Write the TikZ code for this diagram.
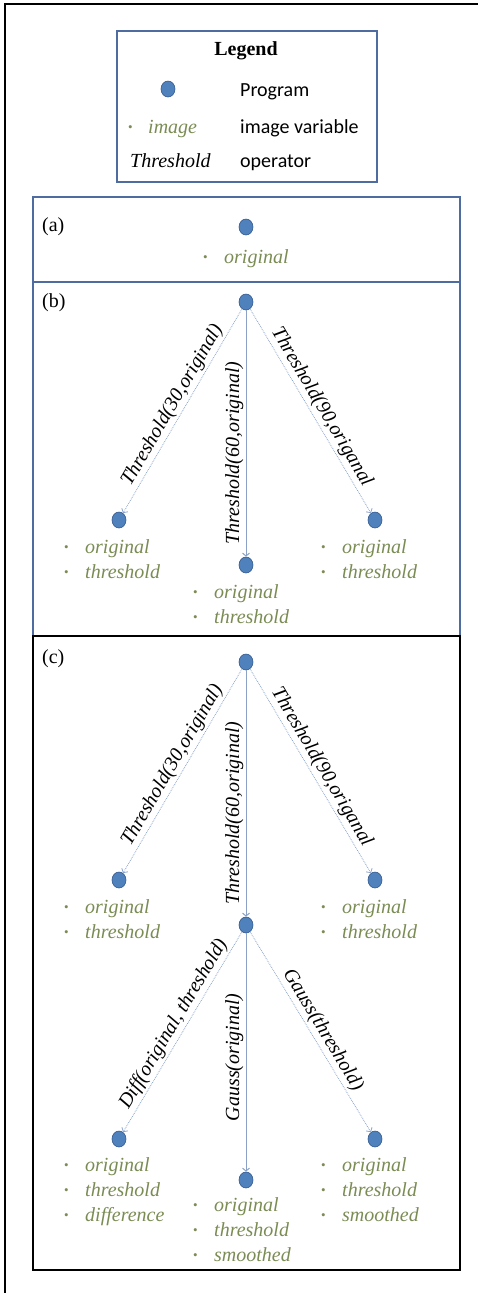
\documentclass[tikz,border=0pt]{standalone}
\usepackage{fontspec}
\setmainfont{Liberation Serif}
\setsansfont{Carlito}
\usetikzlibrary{arrows.meta,shapes.geometric}
\definecolor{progblue}{RGB}{79,129,189}
\definecolor{progedge}{RGB}{52,88,140}
\definecolor{frameblue}{RGB}{79,108,160}
\definecolor{varcol}{RGB}{122,140,84}
\definecolor{linkcol}{RGB}{140,165,205}
\newcommand{\vitem}[1]{\makebox[21pt][l]{\fontsize{13}{13}\selectfont\raisebox{2pt}{\textbullet}}\textit{#1}}

\begin{document}
\begin{tikzpicture}
      [%%%%%%%%%%%%%%%%%%%%%%%%%%%%%%
      x=1pt,y=-1pt,
      prog/.style={ellipse,draw=progedge,fill=progblue,line width=0.6pt,minimum width=14pt,minimum height=16pt,inner sep=0pt},
      vars/.style={anchor=base west,align=left,inner sep=0pt,text=varcol,font=\fontsize{20}{25}\selectfont},
      link/.style={draw=linkcol,line width=0.8pt,densely dotted,-{Straight Barb[length=3pt,width=7pt]}},
      downlink/.style={draw=linkcol!90!gray,line width=1pt,-{Straight Barb[length=3pt,width=7pt]}},
      oplabel/.style={sloped,above,inner sep=2pt,font=\fontsize{20}{24}\selectfont\itshape},
      vlabel/.style={rotate=90,anchor=south,inner sep=2pt,font=\fontsize{20}{24}\selectfont\itshape},
      panel/.style={draw=frameblue,line width=1.5pt},
      tag/.style={anchor=west,inner sep=0pt,font=\fontsize{20}{24}\selectfont},
      ]%%%%%%%%%%%%%%%%%%%%%%%%%%%%%%

      \useasboundingbox (0,0) rectangle (478,1293);
      \draw[line width=1.5pt] (480,4) -- (5,4) -- (5,1295);

      % legend
      \draw[panel] (117,31) rectangle (377,182);
      \node[anchor=base,font=\fontsize{20}{24}\selectfont\bfseries] (legtitle) at (246,55) {Legend};
      \node[prog] (legdot) at (168,89) {};
      \node[anchor=base west,inner sep=0pt,font=\fontsize{20}{24}\selectfont\sffamily] (legprog) at (240,96) {Program};
      \node[vars] (legvar) at (128,133) {\makebox[20pt][l]{\fontsize{13}{13}\selectfont\raisebox{2pt}{\textbullet}}\textit{image}};
      \node[anchor=base west,inner sep=0pt,font=\fontsize{20}{24}\selectfont\sffamily] (legvartxt) at (240,133) {image variable};
      \node[anchor=base west,inner sep=0pt,font=\fontsize{20}{24}\selectfont\itshape] (legop) at (130,167) {Threshold};
      \node[anchor=base west,inner sep=0pt,font=\fontsize{20}{24}\selectfont\sffamily] (legoptxt) at (240,167) {operator};

      % (a)
      \draw[panel] (33,197) rectangle (460,282);
      \node[tag] (taga) at (42,227) {(a)};
      \node[prog] (a0) at (246,227) {};
      \node[vars] (a0vars) at (203,263) {\vitem{original}};

      % (b) -- lists are placed by the baseline of their last line
      \draw[panel] (33,282) rectangle (460,636);
      \node[tag] (tagb) at (42,303) {(b)};
      \node[prog] (b0) at (246,302) {};
      \node[prog] (b1) at (119,520) {};
      \node[prog] (b2) at (246,565) {};
      \node[prog] (b3) at (375,520) {};
      \draw[link] (b0) -- node[oplabel,pos=0.5] {Threshold(30,original)} (b1);
      \draw[downlink] (b0) -- node[vlabel,pos=0.58] {Threshold(60,original)} (b2);
      \draw[link] (b0) -- node[oplabel,pos=0.51] {Threshold(90,origanal} (b3);
      \node[vars] (b1vars) at (64,578) {\vitem{original}\\\vitem{threshold}};
      \node[vars] (b2vars) at (193,623) {\vitem{original}\\\vitem{threshold}};
      \node[vars] (b3vars) at (321,578) {\vitem{original}\\\vitem{threshold}};

      % (c)
      \draw[line width=1.8pt] (33,636) rectangle (460,1270);
      \node[tag] (tagc) at (42,659) {(c)};
      \node[prog] (c0) at (246,662) {};
      \node[prog] (c1) at (119,880) {};
      \node[prog] (c2) at (246,925) {};
      \node[prog] (c3) at (375,880) {};
      \draw[link] (c0) -- node[oplabel,pos=0.5] {Threshold(30,original)} (c1);
      \draw[downlink] (c0) -- node[vlabel,pos=0.58] {Threshold(60,original)} (c2);
      \draw[link] (c0) -- node[oplabel,pos=0.51] {Threshold(90,origanal} (c3);
      \node[vars] (c1vars) at (64,938) {\vitem{original}\\\vitem{threshold}};
      \node[vars] (c3vars) at (321,938) {\vitem{original}\\\vitem{threshold}};
      \node[prog] (c4) at (119,1139) {};
      \node[prog] (c5) at (246,1180) {};
      \node[prog] (c6) at (375,1139) {};
      \draw[link] (c2) -- node[oplabel,pos=0.49] {Diff(original, threshold)} (c4);
      \draw[downlink] (c2) -- node[vlabel,pos=0.52] {Gauss(original)} (c5);
      \draw[link] (c2) -- node[oplabel,pos=0.52] {Gauss(threshold)} (c6);
      \node[vars] (c4vars) at (64,1221) {\vitem{original}\\\vitem{threshold}\\\vitem{difference}};
      \node[vars] (c5vars) at (193,1261) {\vitem{original}\\\vitem{threshold}\\\vitem{smoothed}};
      \node[vars] (c6vars) at (321,1221) {\vitem{original}\\\vitem{threshold}\\\vitem{smoothed}};
    \end{tikzpicture}
\end{document}
